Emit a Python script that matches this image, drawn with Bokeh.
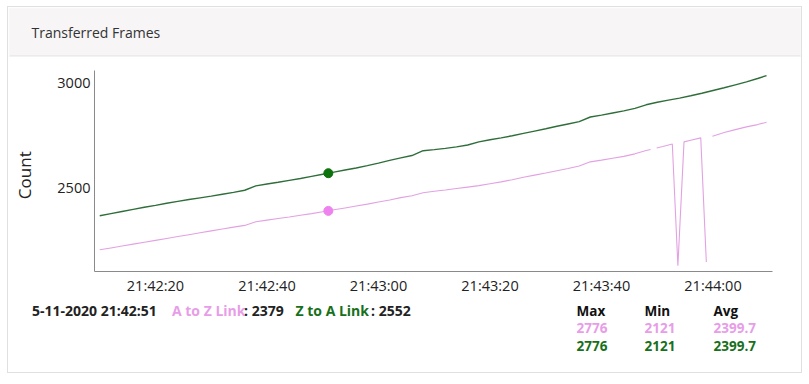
import math
import numpy as np
from bokeh.plotting import figure
from bokeh.layouts import column, row
from bokeh.models import Range1d, FixedTicker, DatetimeTickFormatter
from bokeh.core.properties import value
from bokeh.embed import file_html
from bokeh.resources import INLINE

# ---------------- data ----------------
base_time = "2020-05-11T21:42:10"
title_text = "Transferred Frames"
y_label = "Count"

t_green = [0, 2, 4, 6, 8, 10, 12, 14, 16, 18, 20, 22, 24, 26, 28, 30, 32, 34, 36, 38,
           40, 42, 44, 46, 48, 50, 52, 54, 56, 58, 60, 62, 64, 66, 68, 70, 72, 74, 76, 78,
           80, 82, 84, 86, 88, 90, 92, 94, 96, 98, 100, 102, 104, 106, 108, 110, 112, 114,
           116, 118, 119.6]
v_green = [2370, 2380, 2390, 2400, 2410, 2419, 2429, 2438, 2447, 2455, 2463, 2472, 2481,
           2491, 2512, 2521, 2529, 2538, 2547, 2557, 2567, 2577, 2587, 2597, 2608, 2620,
           2633, 2645, 2656, 2679, 2684, 2690, 2697, 2706, 2721, 2731, 2740, 2750, 2761,
           2772, 2783, 2795, 2806, 2817, 2839, 2848, 2858, 2868, 2880, 2897, 2909, 2919,
           2929, 2940, 2952, 2965, 2978, 2992, 3006, 3022, 3036]

NaN = float("nan")
t_pink = [0, 2, 4, 6, 8, 10, 12, 14, 16, 18, 20, 22, 24, 26, 28, 30, 32, 34, 36, 38,
          40, 42, 44, 46, 48, 50, 52, 54, 56, 58, 60, 62, 64, 66, 68, 70, 72, 74, 76, 78,
          80, 82, 84, 86, 88, 90, 92, 94, 96, 98, 98.8, 99.3, 99.9, 101, 102.7, 103.7,
          104.8, 106, 107.8, 108.8, 109.3, 109.9, 112, 114, 116, 118, 119.6]
v_pink = [2208, 2217, 2226, 2235, 2244, 2253, 2262, 2271, 2280, 2289, 2298, 2307, 2316,
          2324, 2341, 2349, 2357, 2364, 2372, 2380, 2389, 2398, 2407, 2416, 2425, 2435,
          2445, 2456, 2465, 2479, 2486, 2492, 2499, 2506, 2513, 2522, 2531, 2541, 2553,
          2563, 2573, 2584, 2594, 2606, 2626, 2634, 2643, 2652, 2664, 2680, 2685, NaN,
          2692, 2699, 2711, 2132, 2721, 2729, 2740, 2150, NaN, 2748, 2765, 2779, 2792,
          2803, 2814]

hover_sec = 41          # 21:42:51
hover_green = 2572
hover_pink = 2393

x_tick_secs = [10, 30, 50, 70, 90, 110]   # 21:42:20 ... 21:44:00
y_ticks = [2500, 3000]
x_view = [-0.94, 120.67]
y_view = [2105, 3060]

legend_date = "5-11-2020 21:42:51"
series_names = ["A to Z Link", "Z to A Link"]
series_now = ["2379", "2552"]
stats_headers = ["Max", "Min", "Avg"]
stats_pink = ["2776", "2121", "2399.7"]
stats_green = ["2776", "2121", "2399.7"]

# ---------------- helpers ----------------
base = np.datetime64(base_time, "ms")
EPOCH = np.datetime64("1970-01-01T00:00:00", "ms")


def to_dt(secs):
    return base + (np.array(secs, dtype=float) * 1000).astype("timedelta64[ms]")


def to_ms(sec):
    return float((base - EPOCH).astype(np.int64)) + sec * 1000.0


GREEN_LINE = "#2f6e3a"
PINK_LINE = "#e2a2e2"
GREEN_TXT = "#17701a"
PINK_TXT = "#e79de7"
BORDER = "#e0e0e0"
HEAD_BG = "#f7f5f6"
FONT = "Open Sans"
CARD_W = 793


def blank(w, h, xr, yr, bg="white"):
    # frame is inset by 1px on every side of the canvas
    f = figure(width=w, height=h, x_range=Range1d(*xr), y_range=Range1d(*yr),
               x_axis_location=None, y_axis_location=None, toolbar_location=None,
               output_backend="svg", title=None, background_fill_color=bg,
               border_fill_color=bg, outline_line_color=None, min_border=1,
               min_border_left=1, min_border_right=1, min_border_top=1, min_border_bottom=1)
    f.grid.visible = False
    return f


def txt(f, s, x, y, size, color, bold=False, align="left", angle=0.0):
    f.text(x=[x], y=[y], text=[s], text_font=value(FONT), text_font_size=value(size),
           text_color=color, text_font_style="bold" if bold else "normal",
           text_align=align, text_baseline="middle", angle=angle)


# all coordinates below are page pixels; card content starts at page (8, 7)
# header: page x 8..801, y 7..57
header = blank(CARD_W, 50, (9, 800), (56, 8), bg=HEAD_BG)
header.segment(x0=[9], y0=[55.5], x1=[800], y1=[55.5], line_color=BORDER, line_width=1)
txt(header, title_text, 31, 32, "14px", "#333333")

# left strip: page x 8..48, y 57..297
left = blank(40, 240, (9, 47), (296, 58))
txt(left, y_label, 24, 182, "17px", "#222222", align="center", angle=math.pi / 2)

# main plot: page x 48..801, y 57..297 ; frame x 94..772, y 70..272
p = figure(width=753, height=240, x_axis_type="datetime",
           x_range=Range1d(to_ms(x_view[0]), to_ms(x_view[1])),
           y_range=Range1d(y_view[0], y_view[1]),
           output_backend="svg", toolbar_location=None, title=None, min_border=1,
           min_border_left=46, min_border_right=29, min_border_top=13, min_border_bottom=25,
           background_fill_color="white", border_fill_color="white", outline_line_color=None)
p.grid.visible = False

for ax in (p.xaxis[0], p.yaxis[0]):
    ax.axis_line_color = "#8a8a8a"
    ax.axis_line_width = 1
    ax.major_tick_line_color = None
    ax.minor_tick_line_color = None
    ax.major_tick_out = 0
    ax.major_tick_in = 0
    ax.minor_tick_out = 0
    ax.minor_tick_in = 0
    ax.major_label_text_font = FONT
    ax.major_label_text_font_size = "14.5px"
    ax.major_label_text_color = "#222222"

p.xaxis.ticker = FixedTicker(ticks=[to_ms(s) for s in x_tick_secs])
fmt = "%H:%M:%S"
p.xaxis.formatter = DatetimeTickFormatter(milliseconds=fmt, seconds=fmt, minsec=fmt,
                                          minutes=fmt, hourmin=fmt, hours=fmt, days=fmt,
                                          months=fmt, years=fmt)
p.xaxis.major_label_standoff = 4
p.yaxis.ticker = FixedTicker(ticks=y_ticks)
p.yaxis.major_label_standoff = 4

p.line(to_dt(t_pink), v_pink, line_color=PINK_LINE, line_width=1.1)
p.line(to_dt(t_green), v_green, line_color=GREEN_LINE, line_width=1.4)
p.scatter(to_dt([hover_sec]), [hover_green], size=9, fill_color="#0c720c", line_color="#0c720c")
p.scatter(to_dt([hover_sec]), [hover_pink], size=9, fill_color="#ee82ee", line_color="#ee82ee")

# footer: page x 8..801, y 297..372
footer = blank(CARD_W, 75, (9, 800), (371, 298))

LEG = "14px"
txt(footer, legend_date, 31.5, 310, LEG, "#222222", bold=True)
txt(footer, series_names[0], 171.5, 310, LEG, PINK_TXT, bold=True)
txt(footer, ": " + series_now[0], 243.5, 310, LEG, "#222222", bold=True)
txt(footer, series_names[1], 295, 310, LEG, GREEN_TXT, bold=True)
txt(footer, ": " + series_now[1], 370.5, 310, LEG, "#222222", bold=True)

cols_x = [576, 644, 713]
for cx, h, vp, vg in zip(cols_x, stats_headers, stats_pink, stats_green):
    txt(footer, h, cx, 310, "13.5px", "#111111", bold=True)
    txt(footer, vp, cx, 327.5, "13.5px", PINK_TXT, bold=True)
    txt(footer, vg, cx, 345, "13.5px", GREEN_TXT, bold=True)

layout = column(header, row(left, p), footer,
                styles={"border": "1px solid " + BORDER, "margin-left": "7px",
                        "margin-top": "6px"})
open("out.html", "w").write(file_html(layout, INLINE))
